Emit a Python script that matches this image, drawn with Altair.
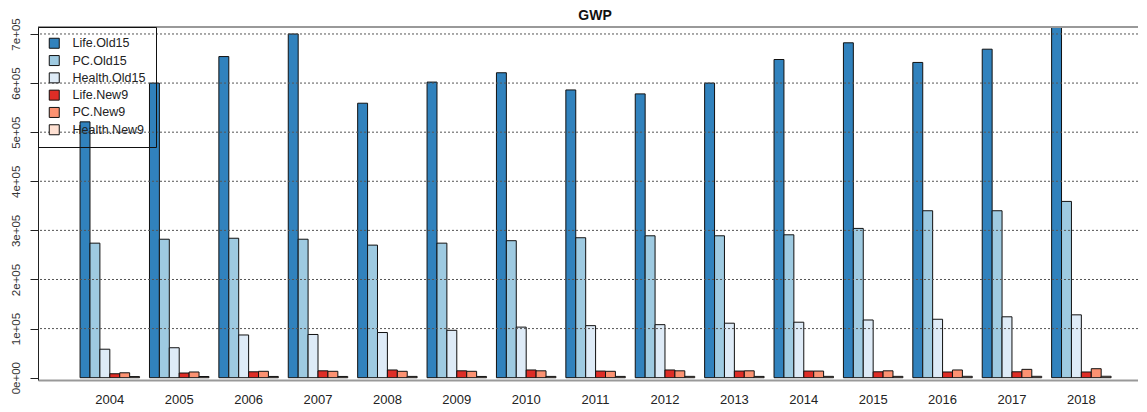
import altair as alt
import pandas as pd

years = [2004, 2005, 2006, 2007, 2008, 2009, 2010, 2011, 2012, 2013, 2014, 2015, 2016, 2017, 2018]
series = ["Life.Old15", "PC.Old15", "Health.Old15", "Life.New9", "PC.New9", "Health.New9"]
colors = ["#3182BD", "#9ECAE1", "#DEEBF7", "#DE2D26", "#FC9272", "#FEE0D2"]

life_old15 = [521000, 600000, 654000, 700000, 559000, 602000, 621000, 586000, 578000, 600000, 648000, 682000, 642000, 669000, 714200]
pc_old15 = [274000, 282000, 284000, 282000, 270000, 274000, 279000, 285000, 289000, 289000, 291000, 304000, 340000, 340000, 359000]
health_old15 = [58000, 61000, 87000, 88000, 92000, 96500, 103000, 106000, 108000, 111000, 113000, 117500, 119000, 124000, 128000]
life_new9 = [8000, 9500, 12000, 14000, 15700, 14000, 15700, 13500, 15700, 13500, 13500, 12000, 11600, 12000, 11600]
pc_new9 = [10000, 11600, 13000, 13000, 13000, 13000, 14000, 13000, 14000, 14000, 13500, 14000, 15700, 17000, 18300]
health_new9 = [2300, 2400, 2500, 2500, 2600, 2500, 2600, 2600, 2700, 2600, 2700, 2700, 2800, 2800, 2900]

title_text = ["GWP"]
grid_vals = [100000, 200000, 300000, 400000, 500000, 600000, 700000]
tick_vals = [0, 100000, 200000, 300000, 400000, 500000, 600000, 700000]

rows = []
for s, vals in zip(series, [life_old15, pc_old15, health_old15, life_new9, pc_new9, health_new9]):
    for yr, v in zip(years, vals):
        rows.append({"year": str(yr), "series": s, "value": v})
df = pd.DataFrame(rows)

FONT = "Liberation Sans"
yscale = alt.Scale(domain=[-4700, 714200], nice=False, zero=False)
yaxis = alt.Axis(values=tick_vals, title=None, grid=False,
                 labelExpr="datum.value == 0 ? '0e+00' : format(datum.value / 100000, 'd') + 'e+05'",
                 labelAngle=-90, labelAlign="center", labelBaseline="alphabetic",
                 tickSize=8, tickColor="#222", domainColor="#222",
                 labelPadding=11, labelFontSize=11.5, labelFont=FONT, labelColor="#333")

bars = alt.Chart(df).mark_bar(stroke="#111", strokeWidth=1, clip=True).encode(
    x=alt.X("year:N",
            scale=alt.Scale(paddingInner=1 / 7, paddingOuter=0.497, align=0.61),
            axis=alt.Axis(title=None, labelAngle=0, ticks=False, domain=True,
                          domainColor="#999", domainWidth=2, labelPadding=13,
                          labelFontSize=13, labelFont=FONT, labelColor="#222")),
    xOffset=alt.XOffset("series:N", sort=series,
                        scale=alt.Scale(domain=series, paddingInner=0, paddingOuter=0)),
    y=alt.Y("value:Q", stack=None, scale=yscale, axis=yaxis),
    color=alt.Color("series:N", sort=series,
                    scale=alt.Scale(domain=series, range=colors),
                    legend=alt.Legend(title=None, orient="none", legendX=0, legendY=0,
                                      strokeColor="#111", padding=10,
                                      symbolType="square", symbolSize=100,
                                      symbolStrokeColor="#111", symbolStrokeWidth=1,
                                      labelFontSize=12.5, labelFont=FONT, labelColor="#222",
                                      rowPadding=2.3, labelOffset=12)),
)

grid = alt.Chart(pd.DataFrame({"value": grid_vals})).mark_rule(
    strokeDash=[2, 2], color="#555", strokeWidth=1
).encode(y=alt.Y("value:Q", scale=yscale, axis=yaxis))

topline = alt.Chart(pd.DataFrame({"a": [0]})).mark_rule(color="#999", strokeWidth=2).encode(
    y=alt.value(0)
)

title = alt.Chart(pd.DataFrame({"t": title_text})).mark_text(
    font=FONT, fontSize=14, fontWeight="bold", color="#111",
    align="center", baseline="alphabetic"
).encode(x=alt.value(557), y=alt.value(-7), text="t:N")

chart = alt.layer(bars, grid, topline, title).properties(
    width=1100, height=353,
    padding={"left": 30, "top": 19, "right": 0, "bottom": 30},
    autosize=alt.AutoSizeParams(type="none"),
).configure_view(stroke=None)

chart.save("out.html", embed_options={"renderer": "svg", "actions": False})
